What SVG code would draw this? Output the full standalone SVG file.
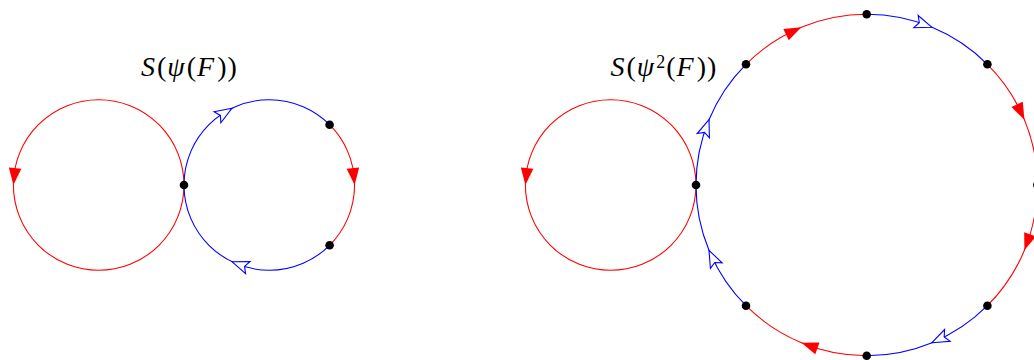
<svg xmlns="http://www.w3.org/2000/svg" xmlns:xlink="http://www.w3.org/1999/xlink" width="1034" height="360" viewBox="0 0 1034 360">
<style>
.r{fill:none;stroke:#ff0000;stroke-width:1.1}
.b{fill:none;stroke:#0000ff;stroke-width:1.1}
.dot{fill:#000}
.lbl{font-family:"Liberation Serif","Times New Roman",serif;font-size:28px;fill:#000;letter-spacing:1px}
.it{font-style:italic}
.sup{font-size:18px}
</style>
<defs>
<path id="ra" d="M0,0 L-17,-6.3 L-17,6.3 Z" fill="#ff0000"/>
<path id="ba" d="M0,0 L-17,-6.5 L-13.5,0 L-17,6.5 Z" fill="#fff" stroke="#0000ff" stroke-width="1.1" stroke-linejoin="miter"/>
</defs>
<rect width="1034" height="360" fill="#fff"/>
<g id="connectors">
<circle class="r" cx="98.7" cy="185" r="85.3"/>
<path class="r" d="M329.6,124.7 A85.3,85.3 0 0 1 329.6,245.3"/>
<path class="b" d="M329.6,245.3 A85.3,85.3 0 1 1 329.6,124.7"/>
<circle class="r" cx="610.7" cy="185" r="85.3"/>
<path class="b" d="M696,185 A170.7,170.7 0 0 1 746,64.3"/>
<path class="r" d="M746,64.3 A170.7,170.7 0 0 1 866.7,14.3"/>
<path class="b" d="M866.7,14.3 A170.7,170.7 0 0 1 987.4,64.3"/>
<path class="r" d="M987.4,64.3 A170.7,170.7 0 0 1 1037.4,185"/>
<path class="r" d="M1037.4,185 A170.7,170.7 0 0 1 987.4,305.7"/>
<path class="b" d="M987.4,305.7 A170.7,170.7 0 0 1 866.7,355.7"/>
<path class="r" d="M866.7,355.7 A170.7,170.7 0 0 1 746,305.7"/>
<path class="b" d="M746,305.7 A170.7,170.7 0 0 1 696,185"/>
<use xlink:href="#ra" transform="translate(13.4,185) rotate(95.73)"/>
<use xlink:href="#ra" transform="translate(354.6,185) rotate(84.27)"/>
<use xlink:href="#ba" transform="translate(231.9,261.7) rotate(200.27)"/>
<use xlink:href="#ba" transform="translate(231.9,108.3) rotate(328.27)"/>
<use xlink:href="#ra" transform="translate(525.4,185) rotate(95.73)"/>
<use xlink:href="#ba" transform="translate(709.0,119.7) rotate(289.65)"/>
<use xlink:href="#ra" transform="translate(801.4,27.3) rotate(334.65)"/>
<use xlink:href="#ba" transform="translate(932.0,27.3) rotate(19.65)"/>
<use xlink:href="#ra" transform="translate(1024.4,119.7) rotate(64.65)"/>
<use xlink:href="#ra" transform="translate(1024.4,250.3) rotate(109.65)"/>
<use xlink:href="#ba" transform="translate(932.0,342.7) rotate(154.65)"/>
<use xlink:href="#ra" transform="translate(801.4,342.7) rotate(199.65)"/>
<use xlink:href="#ba" transform="translate(709.0,250.3) rotate(244.65)"/>
</g>
<g id="n-left-junction"><circle class="dot" cx="184" cy="185" r="4.3"/></g>
<g id="n-left-top"><circle class="dot" cx="329.6" cy="124.7" r="4.3"/></g>
<g id="n-left-bottom"><circle class="dot" cx="329.6" cy="245.3" r="4.3"/></g>
<g id="n-right-180"><circle class="dot" cx="696" cy="185" r="4.3"/></g>
<g id="n-right-225"><circle class="dot" cx="746" cy="64.3" r="4.3"/></g>
<g id="n-right-270"><circle class="dot" cx="866.7" cy="14.3" r="4.3"/></g>
<g id="n-right-315"><circle class="dot" cx="987.4" cy="64.3" r="4.3"/></g>
<g id="n-right-0"><circle class="dot" cx="1037.4" cy="185" r="4.3"/></g>
<g id="n-right-45"><circle class="dot" cx="987.4" cy="305.7" r="4.3"/></g>
<g id="n-right-90"><circle class="dot" cx="866.7" cy="355.7" r="4.3"/></g>
<g id="n-right-135"><circle class="dot" cx="746" cy="305.7" r="4.3"/></g>
<g id="label-left">
<text class="lbl" x="141" y="76"><tspan class="it">S</tspan><tspan dx="1">(</tspan><tspan class="it">ψ</tspan><tspan dx="1">(</tspan><tspan class="it">F</tspan><tspan dx="2">))</tspan></text>
</g>
<g id="label-right">
<text class="lbl" x="610.5" y="76"><tspan class="it">S</tspan><tspan dx="1">(</tspan><tspan class="it">ψ</tspan><tspan class="sup" dx="1" dy="-8">2</tspan><tspan dy="8">(</tspan><tspan class="it">F</tspan><tspan dx="2">))</tspan></text>
</g>
</svg>
